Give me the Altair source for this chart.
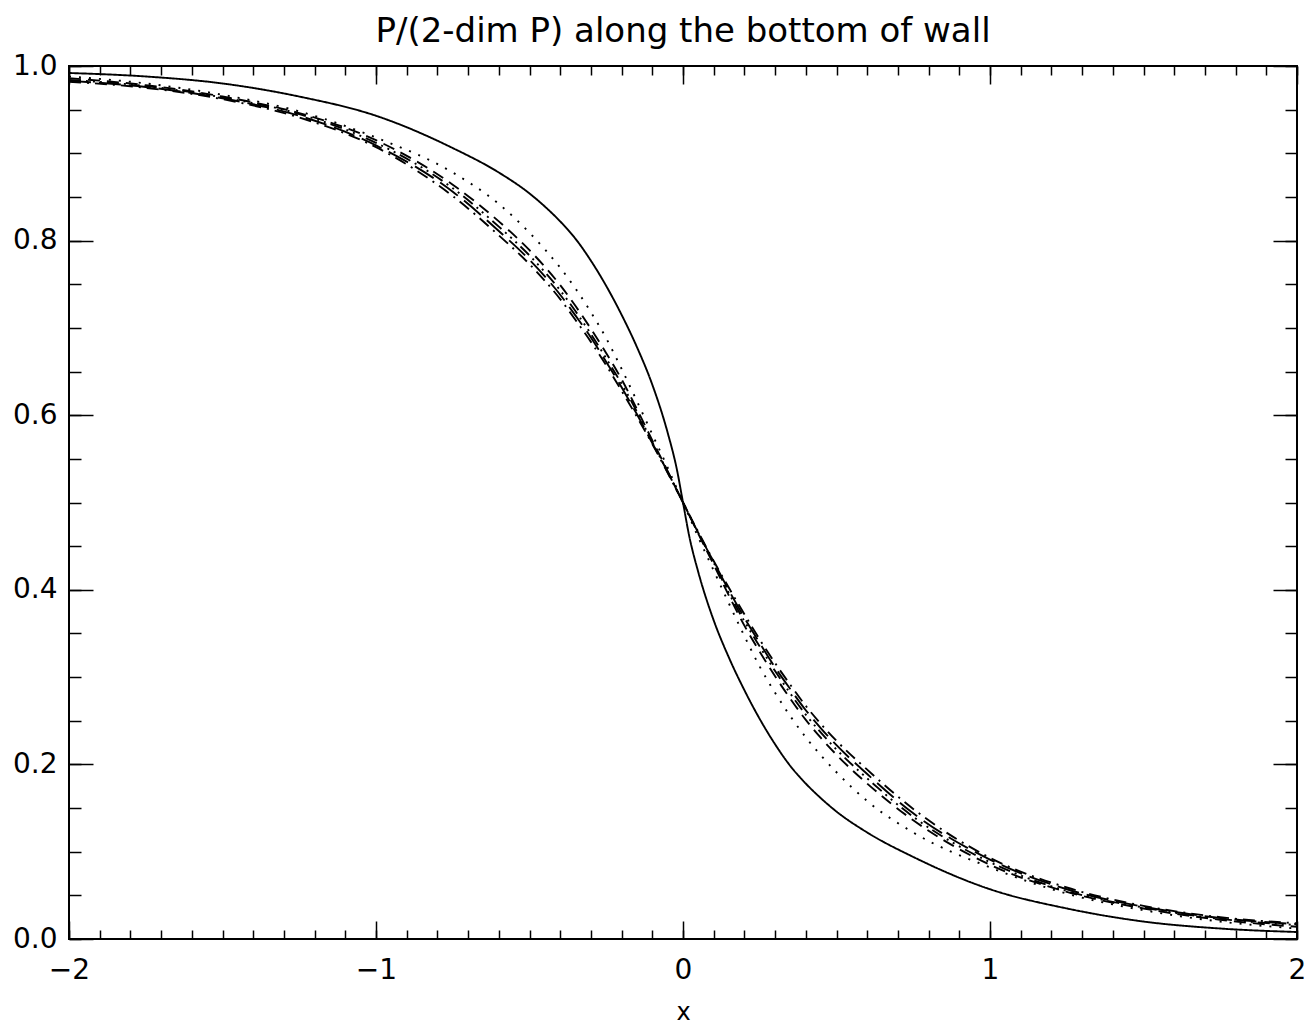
import altair as alt
import pandas as pd

x_vals = [-2, -1.75, -1.5, -1.25, -1, -0.75, -0.6, -0.5, -0.45, -0.4, -0.35, -0.3, -0.25, -0.2, -0.15, -0.1, -0.05, -0.02, 0,
          0.02, 0.05, 0.1, 0.15, 0.2, 0.25, 0.3, 0.35, 0.4, 0.45, 0.5, 0.6, 0.75, 1, 1.25, 1.5, 1.75, 2]

solid = [0.992, 0.988, 0.980, 0.965, 0.943, 0.906, 0.878, 0.854, 0.839, 0.822, 0.802, 0.777, 0.748, 0.715, 0.678, 0.635, 0.580, 0.538, 0.500,
         0.462, 0.420, 0.365, 0.322, 0.285, 0.252, 0.223, 0.198, 0.178, 0.161, 0.146, 0.122, 0.094, 0.057, 0.035, 0.020, 0.012, 0.008]
dotted = [0.988, 0.980, 0.967, 0.948, 0.918, 0.878, 0.842, 0.809, 0.790, 0.769, 0.745, 0.718, 0.688, 0.653, 0.616, 0.578, 0.540, 0.516, 0.500,
          0.484, 0.460, 0.422, 0.384, 0.347, 0.312, 0.282, 0.255, 0.231, 0.210, 0.191, 0.158, 0.122, 0.082, 0.052, 0.033, 0.020, 0.012]
dashed = [0.986, 0.978, 0.965, 0.946, 0.915, 0.864, 0.822, 0.789, 0.770, 0.749, 0.725, 0.699, 0.671, 0.641, 0.607, 0.571, 0.536, 0.514, 0.500,
          0.486, 0.464, 0.429, 0.393, 0.359, 0.329, 0.301, 0.275, 0.251, 0.230, 0.211, 0.178, 0.136, 0.085, 0.054, 0.035, 0.022, 0.014]
dash3dot = [0.984, 0.977, 0.964, 0.945, 0.912, 0.860, 0.816, 0.783, 0.764, 0.743, 0.719, 0.693, 0.665, 0.636, 0.604, 0.569, 0.535, 0.514, 0.500,
            0.486, 0.465, 0.431, 0.396, 0.364, 0.335, 0.307, 0.281, 0.257, 0.236, 0.217, 0.184, 0.140, 0.088, 0.055, 0.036, 0.023, 0.016]
longdash = [0.983, 0.976, 0.963, 0.943, 0.909, 0.856, 0.811, 0.778, 0.759, 0.738, 0.714, 0.689, 0.661, 0.632, 0.601, 0.568, 0.535, 0.514, 0.500,
            0.486, 0.465, 0.432, 0.399, 0.368, 0.339, 0.311, 0.286, 0.262, 0.241, 0.222, 0.189, 0.144, 0.091, 0.057, 0.037, 0.024, 0.017]
dashdot = [0.982, 0.975, 0.962, 0.941, 0.907, 0.851, 0.806, 0.773, 0.754, 0.733, 0.709, 0.684, 0.657, 0.628, 0.598, 0.567, 0.534, 0.514, 0.500,
           0.486, 0.466, 0.433, 0.402, 0.372, 0.343, 0.316, 0.291, 0.267, 0.246, 0.227, 0.194, 0.149, 0.093, 0.059, 0.038, 0.025, 0.018]

series_names = ["solid", "dotted", "dashed", "dash3dot", "longdash", "dashdot"]
series_vals = [solid, dotted, dashed, dash3dot, longdash, dashdot]
dash_styles = [[1, 0], [2, 8], [12, 7], [12, 5, 2, 5, 2, 5, 2, 5], [22, 8], [12, 6, 2, 6]]

x_major = [-2, -1, 0, 1, 2]
x_minor = [round(-2 + 0.1 * i, 2) for i in range(41)]
y_major = [0.0, 0.2, 0.4, 0.6, 0.8, 1.0]
y_minor = [round(0.05 * i, 2) for i in range(21)]

rows = []
for name, vals in zip(series_names, series_vals):
    for xv, yv in zip(x_vals, vals):
        rows.append({"x": xv, "y": yv, "series": name})
df = pd.DataFrame(rows)

FONT = "DejaVu Sans"
W, H = 1228, 873
xs = alt.Scale(domain=[-2, 2], nice=False, zero=False)
ys = alt.Scale(domain=[0, 1], nice=False, zero=False)

def ax(orient, values, size):
    return alt.Axis(orient=orient, values=values, tickSize=size, offset=-size, domain=False,
                    grid=False, labels=False, ticks=True, tickColor="black", tickWidth=1.5,
                    title=None)

lines = alt.Chart(df).mark_line(clip=True, strokeWidth=1.9, color="black", interpolate="monotone").encode(
    x=alt.X("x:Q", scale=xs, axis=alt.Axis(
        orient="bottom", values=x_major, tickSize=18, offset=-18, domain=False, grid=False,
        tickColor="black", tickWidth=1.5, format="d", labelFont=FONT, labelFontSize=28,
        labelColor="black", labelPadding=17, labelFlush=False, labelOverlap=False,
        title="x", titleFont=FONT, titleFontSize=24,
        titleFontWeight="normal", titleColor="black", titlePadding=16)),
    y=alt.Y("y:Q", scale=ys, axis=alt.Axis(
        orient="left", values=y_major, tickSize=24, offset=-24, domain=False, grid=False,
        tickColor="black", tickWidth=1.5, format=".1f", labelFont=FONT, labelFontSize=28,
        labelColor="black", labelPadding=12, labelFlush=False, labelOverlap=False, title=None)),
    strokeDash=alt.StrokeDash("series:N", scale=alt.Scale(domain=series_names, range=dash_styles), legend=None),
    detail="series:N",
)

def axis_layer(xaxis, yaxis):
    return alt.Chart(df).mark_point(opacity=0, size=1).encode(
        x=alt.X("x:Q", scale=xs, axis=xaxis),
        y=alt.Y("y:Q", scale=ys, axis=yaxis),
    )

layers = [
    lines,
    axis_layer(ax("bottom", x_minor, 9), None),
    axis_layer(ax("top", x_major, 18), None),
    axis_layer(ax("top", x_minor, 9), None),
    axis_layer(None, ax("left", y_minor, 12)),
    axis_layer(None, ax("right", y_major, 24)),
    axis_layer(None, ax("right", y_minor, 12)),
]

chart = alt.layer(*layers).resolve_axis(x="independent", y="independent").properties(
    width=W, height=H,
    autosize=alt.AutoSizeParams(type="none"),
    padding={"left": 69, "top": 66, "right": 17, "bottom": 88},
    title=alt.TitleParams("P/(2-dim P) along the bottom of wall", font=FONT, fontSize=34,
                          fontWeight="normal", color="black", anchor="middle", offset=3),
).configure(background="white").configure_view(stroke="black", strokeWidth=2)

chart.save("out.html", embed_options={"renderer": "svg", "actions": False})
